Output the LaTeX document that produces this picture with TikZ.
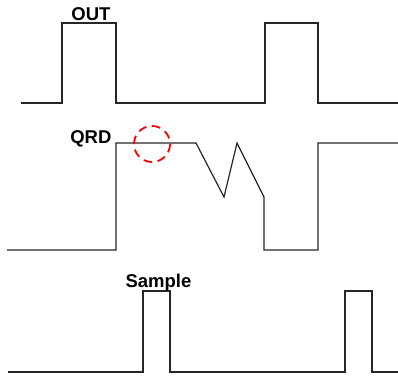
\documentclass[tikz,border=0pt]{standalone}
\usepackage{fontspec}
\setmainfont{Liberation Sans}

\tikzset{every picture/.style={line width=1.2pt}}
\tikzset{wave/.style={draw=black!85, line join=miter},
	lbl/.style={inner sep=0pt, font=\fontsize{18.5}{22}\selectfont\bfseries}}

\begin{document}
\begin{tikzpicture}[x=1pt,y=1pt,yscale=-1,xscale=1]
	\useasboundingbox (0,0) rectangle (398,376);
	
	%Shape: Wave OUT [id:out]
	\draw [wave]  (21,103) -- (62,103) -- (62,23) -- (116,23) -- (116,103) -- (265,103) -- (265,23) -- (318,23) -- (318,103) -- (398,103) ;
	%Shape: Wave QRD [id:qrd]
	\draw [wave]  (7,250) -- (116,250) -- (116,143) -- (196,143) -- (224,197) -- (237,143) -- (264,197) -- (264,250) -- (318,250) -- (318,143) -- (398,143) ;
	%Shape: Wave Sample [id:sample]
	\draw [wave]  (8,372) -- (143,372) -- (143,291) -- (170,291) -- (170,372) -- (345,372) -- (345,291) -- (372,291) -- (372,372) -- (398,372) ;
	%Shape: Circle [id:glitch]
	\draw [color=red, line width=1.8pt, dash pattern={on 8.5pt off 5.6pt}]  (152,144) circle (18) ;
	
	% Text Node
	\node [lbl, anchor=base] (outlbl) at (91,20) {OUT};
	% Text Node
	\node [lbl, anchor=base east] (qrdlbl) at (112,143) {QRD};
	% Text Node
	\node [lbl, anchor=base] (samplelbl) at (158.5,287) {Sample};
	
\end{tikzpicture}
\end{document}
